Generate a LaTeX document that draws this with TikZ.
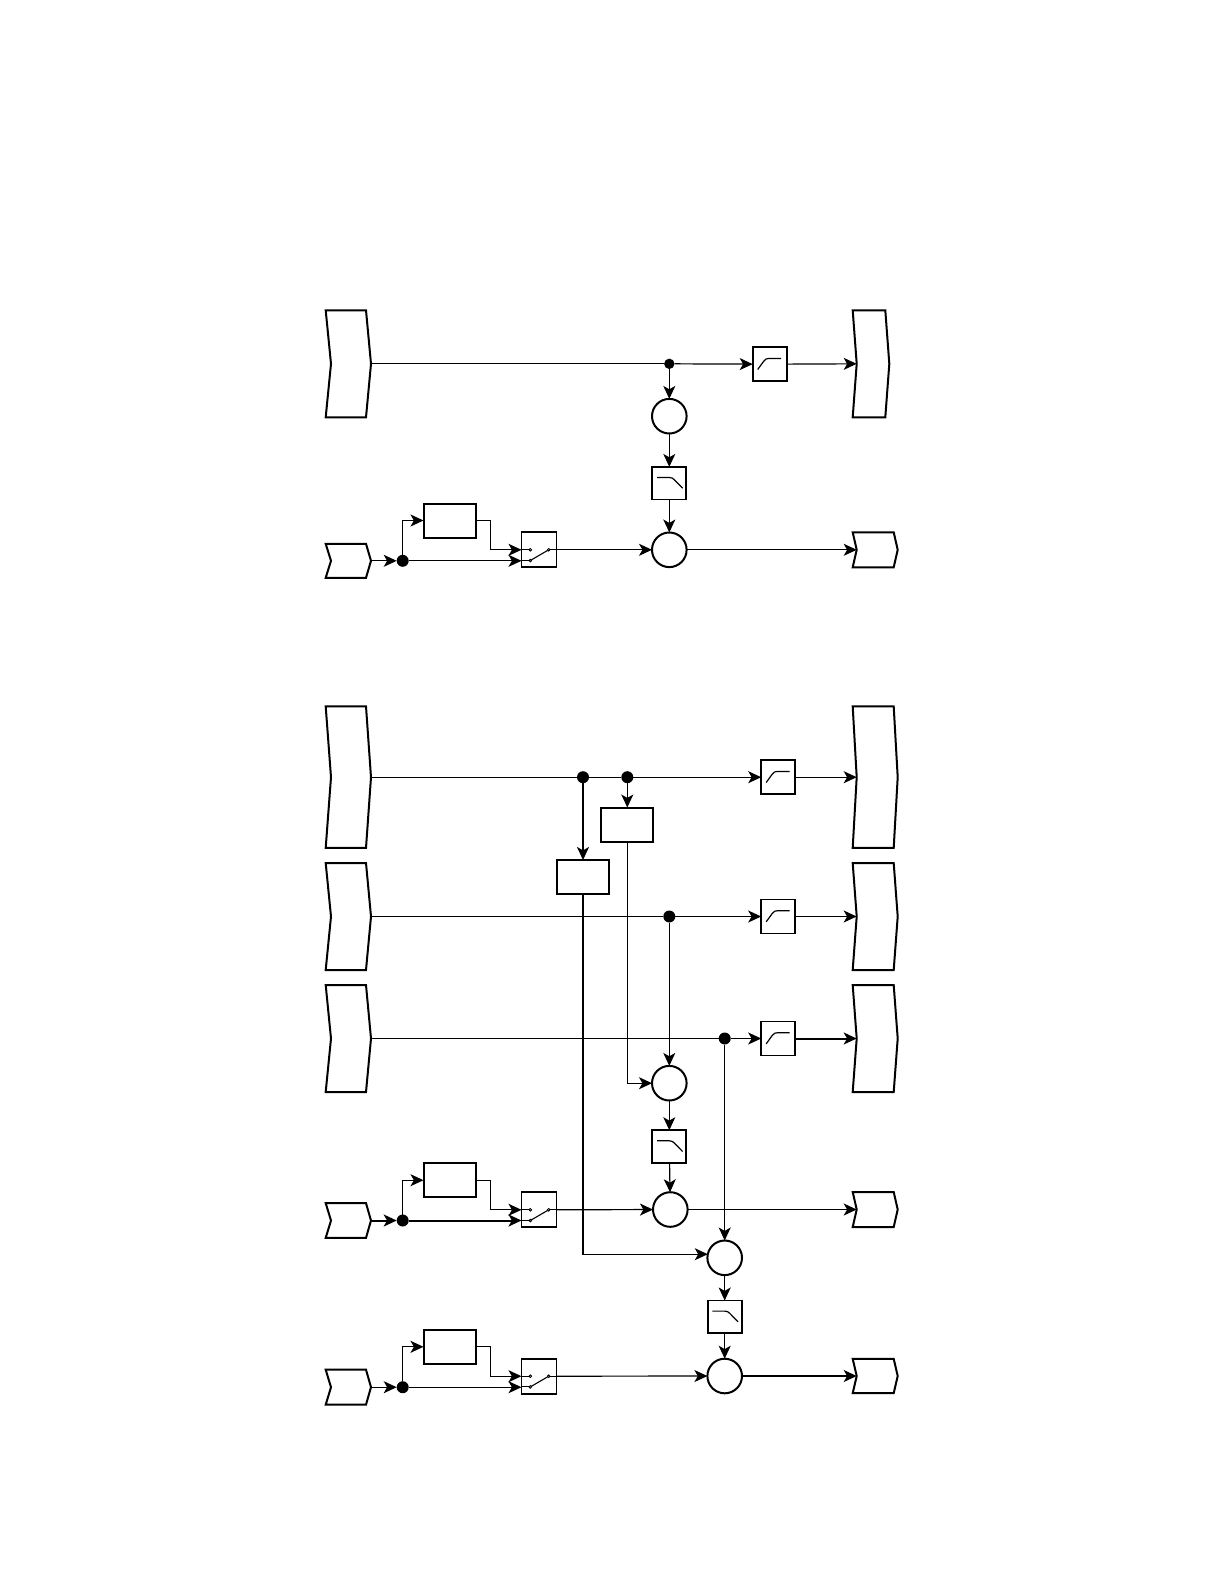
\documentclass[tikz,border=0pt]{standalone}
\usetikzlibrary{arrows.meta}
\newcommand{\inport}[3]{%
\node[portnode,minimum width=22.65bp,minimum height=#3*0.5bp] (#1) at (348.35,#2) {};
\draw[portline] (#1.north west) -- ([xshift=-2.5bp]#1.north east) -- (#1.east) -- ([xshift=-2.5bp]#1.south east) -- (#1.south west) -- ([xshift=2.65bp]#1.west) -- cycle;}
\newcommand{\outport}[4]{%
\node[portnode,anchor=west,minimum width=#3*0.5bp,minimum height=#4*0.5bp] (#1) at (856.7,#2) {};
\draw[portline] ([xshift=-2bp]#1.north west) -- ([xshift=-2bp]#1.north east) -- (#1.east) -- ([xshift=-2bp]#1.south east) -- ([xshift=-2bp]#1.south west) -- (#1.west) -- cycle;}
\begin{document}
\begin{tikzpicture}[x=0.5bp,y=-0.5bp,line width=0.6bp,>={Stealth[length=6.5bp,width=6bp,inset=1.7bp]},
  portnode/.style={inner sep=0pt,outer sep=0pt},
  portline/.style={line width=1bp,line join=miter},
  block/.style={draw,line width=1bp,inner sep=0pt,outer sep=0pt,minimum width=26bp,minimum height=17bp},
  mixer/.style={draw,circle,line width=1bp,inner sep=0pt,outer sep=0pt,minimum size=17.3bp},
  junction/.style={fill,circle,inner sep=0pt,outer sep=0pt,minimum size=6bp},
  thickwire/.style={line width=1bp},
  highpass/.style={draw,line width=0.9bp,inner sep=0pt,outer sep=0pt,minimum width=17bp,minimum height=17bp,
    path picture={\draw[line width=0.6bp,shift={(path picture bounding box.center)}] (-12,5.3) -- (-6,-3) .. controls (-4,-5.5) and (-3,-5.7) .. (-1,-5.7) -- (11.3,-5.7);}},
  lowpass/.style={draw,line width=0.9bp,inner sep=0pt,outer sep=0pt,minimum width=17bp,minimum height=16.3bp,
    path picture={\draw[line width=0.6bp,shift={(path picture bounding box.center)}] (-12.3,-5.7) -- (0,-5.7) .. controls (2.5,-5.7) and (3.5,-5) .. (5,-3.5) -- (13.3,5);}},
  switcher/.style={draw,line width=0.9bp,inner sep=0pt,outer sep=0pt,minimum size=17.5bp,
    path picture={\begin{scope}[shift={(path picture bounding box.center)},line width=0.45bp]
      \draw (-18,0) -- (-10,0);
      \draw (-18,10.7) -- (-10,10.7);
      \draw (10.9,0) -- (18,0);
      \draw[line width=0.55bp] (-8.7,10.7) -- (9.7,0);
      \draw[fill=white] (-8.7,0) circle[radius=1.3];
      \draw[fill=white] (-8.7,10.7) circle[radius=1.3];
      \draw[fill=white] (9.7,0) circle[radius=1.3];
    \end{scope}}}]
\useasboundingbox (0,-0.5) rectangle (1224,1583.5);
% upper
\inport{inA}{363.3}{107}
\inport{inB}{560.3}{34}
\outport{outA}{363.3}{32.6}{107}
\outport{outB}{549.3}{41}{35}
\node[junction,minimum size=5.2bp] (jA) at (669.3,363.3) {};
\node[highpass] (hpA) at (769.7,363.7) {};
\node[mixer] (mixA) at (669.3,415.7) {};
\node[lowpass] (lpA) at (669.3,482.7) {};
\node[mixer] (mixB) at (669.3,549.3) {};
\node[junction] (jB) at (402.7,560.3) {};
\node[block] (delayA) at (449.5,520) {};
\node[switcher] (swA) at (539,549.3) {};
\draw (inA.east) -- (jA);
\draw[->] (jA) -- (hpA);
\draw[->] (hpA) -- (outA.west);
\draw[->] (jA) -- (mixA);
\draw[->] (mixA) -- (lpA);
\draw[->] (lpA) -- (mixB);
\draw[->] (swA) -- (mixB);
\draw[->] (mixB) -- (outB.west);
\draw[->] (inB.east) -- (jB);
\draw[->] (jB) |- (delayA);
\draw[->] (jB) -- (jB -| swA.west);
\draw[->] (delayA) -- ++(40.8,0) |- (swA.west);
% lower
\inport{inC}{776.7}{141.5}
\inport{inD}{916}{107}
\inport{inE}{1038}{107}
\inport{inF}{1220}{34.7}
\inport{inG}{1386.7}{35}
\outport{outC}{776.7}{41}{141.5}
\outport{outD}{916}{41}{107}
\outport{outE}{1038}{41}{107}
\outport{outF}{1209}{41}{35}
\outport{outG}{1375.5}{41}{34.4}
\node[junction] (jC) at (583,776.7) {};
\node[junction] (jD) at (627.3,776.7) {};
\node[junction] (jE) at (669.3,916) {};
\node[junction] (jF) at (724.7,1038) {};
\node[highpass] (hpC) at (778.2,776.7) {};
\node[highpass] (hpD) at (778.2,916) {};
\node[highpass] (hpE) at (778.2,1038) {};
\node[block] (delayC) at (627.3,824) {};
\node[block] (delayD) at (583,876.5) {};
\node[mixer] (mixC) at (669.3,1082.7) {};
\node[lowpass] (lpC) at (669.3,1146) {};
\node[mixer] (mixD) at (670.3,1209) {};
\node[mixer] (mixE) at (724.7,1257.3) {};
\node[lowpass] (lpE) at (724.7,1316.3) {};
\node[mixer] (mixF) at (724.7,1375.5) {};
\node[junction] (jG) at (402.7,1220) {};
\node[block] (delayF) at (449.5,1179.7) {};
\node[switcher] (swF) at (539,1209.3) {};
\node[junction] (jH) at (402.7,1386.7) {};
\node[block] (delayG) at (449.5,1346.3) {};
\node[switcher] (swG) at (539,1375.7) {};
\draw (inC.east) -- (jC);
\draw (jC) -- (jD);
\draw[->] (jD) -- (hpC);
\draw[->] (hpC) -- (outC.west);
\draw[->,thickwire] (jC) -- (delayD);
\draw[->] (jD) -- (delayC);
\draw (inD.east) -- (jE);
\draw[->] (jE) -- (hpD);
\draw[->] (hpD) -- (outD.west);
\draw (inE.east) -- (jF);
\draw[->] (jF) -- (hpE);
\draw[->,thickwire] (hpE) -- (outE.west);
\draw[->] (jE) -- (mixC);
\draw[->] (delayC) |- (mixC);
\draw[->] (mixC) -- (lpC);
\draw[->] (lpC) -- (mixD);
\draw[->] (swF) -- (mixD);
\draw[->] (mixD) -- (outF.west);
\draw[->] (jF) -- (mixE);
\draw[->] (delayD) |- (mixE.168);
\draw[->] (mixE) -- (lpE);
\draw[->] (lpE) -- (mixF);
\draw[->] (swG) -- (mixF);
\draw[->] (mixF) -- (outG.west);
\draw[->,thickwire] (inF.east) -- (jG);
\draw[->] (jG) |- (delayF);
\draw[->,thickwire] (jG) -- (jG -| swF.west);
\draw[->] (delayF) -- ++(40.8,0) |- (swF.west);
\draw[->] (inG.east) -- (jH);
\draw[->] (jH) |- (delayG);
\draw[->] (jH) -- (jH -| swG.west);
\draw[->] (delayG) -- ++(40.8,0) |- (swG.west);
\end{tikzpicture}
\end{document}
